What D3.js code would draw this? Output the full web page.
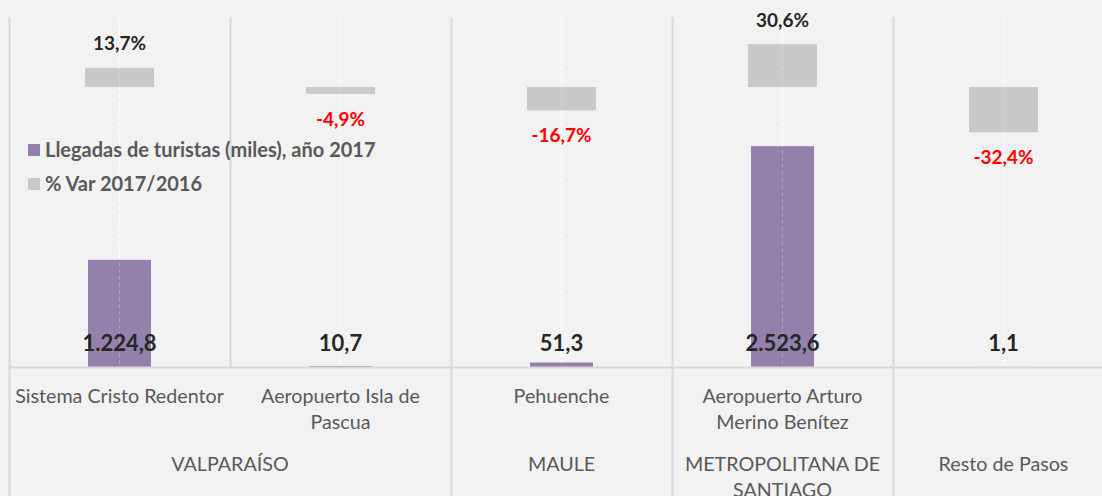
<!DOCTYPE html>
<html>
<head>
<meta charset="utf-8">
<script src="https://cdn.jsdelivr.net/npm/d3@7"></script>
<style>
  body { margin: 0; background: #f2f2f2; }
  svg { display: block; font-family: Lato, 'Open Sans', sans-serif; }
</style>
</head>
<body>
<svg class="chart" width="1102" height="496"></svg>
<script>
// categorías (nivel 1, con saltos de línea) y región (nivel 2)
const categories = ['Sistema Cristo Redentor', 'Aeropuerto Isla de Pascua', 'Pehuenche', 'Aeropuerto Arturo Merino Benítez', ''];
const categoryLines = [['Sistema Cristo Redentor'], ['Aeropuerto Isla de', 'Pascua'], ['Pehuenche'], ['Aeropuerto Arturo', 'Merino Benítez'], []];
const regions = ['VALPARAÍSO', 'MAULE', 'METROPOLITANA DE SANTIAGO', 'Resto de Pasos'];
const regionLines = [['VALPARAÍSO'], ['MAULE'], ['METROPOLITANA DE', 'SANTIAGO'], ['Resto de Pasos']];
const regionSpan = [2, 1, 1, 1]; // cuántas categorías cubre cada región

// series
const arrivals = [1224.8, 10.7, 51.3, 2523.6, 1.1]; // miles
const varPct = [13.7, -4.9, -16.7, 30.6, -32.4];   // %
const seriesNames = ['Llegadas de turistas (miles), año 2017', '% Var 2017/2016'];

const purple = '#9281ab';
const grey = '#c9c9c9';
const gridColor = '#d9d9d9';

const svg = d3.select('svg.chart');
const plotTop = 17, axisY = 367, plotBottom = 496;

const x = d3.scaleBand()
  .domain(d3.range(categories.length))
  .range([9, 9 + 221 * categories.length]);

// eje principal (miles) y secundario (%), ambos ocultos
const yArr = d3.scaleLinear().domain([0, 4000]).range([axisY, plotTop]);
const yVar = d3.scaleLinear().domain([-200, 50]).range([axisY, plotTop]);

const fmtNum = d3.formatLocale({ decimal: ',', thousands: '.', grouping: [3] }).format(',.1f');
const fmtPct = (v) => v.toFixed(1).replace('.', ',') + '%';
const center = (i) => x(i) + x.bandwidth() / 2;

// líneas verticales de la zona de gráfico
svg.append('g')
  .selectAll('line')
  .data(d3.range(categories.length + 1))
  .join('line')
  .attr('x1', (i) => 9 + i * x.bandwidth() + 0.5)
  .attr('x2', (i) => 9 + i * x.bandwidth() + 0.5)
  .attr('y1', plotTop)
  .attr('y2', axisY)
  .attr('stroke', gridColor)
  .attr('stroke-width', 2);

// líneas blancas punteadas en el centro de cada categoría
function dashedLines(opacity) {
  svg.append('g')
    .attr('opacity', opacity)
    .selectAll('line')
    .data(d3.range(categories.length))
    .join('line')
    .attr('x1', (i) => center(i))
    .attr('x2', (i) => center(i))
    .attr('y1', plotTop)
    .attr('y2', axisY)
    .attr('stroke', '#ffffff')
    .attr('stroke-width', 1)
    .attr('stroke-dasharray', '4,3');
}
dashedLines(1);

// barras % variación (flotantes desde el 0 del eje secundario)
svg.append('g')
  .selectAll('rect')
  .data(varPct)
  .join('rect')
  .attr('x', (d, i) => center(i) - 34.5)
  .attr('width', 69)
  .attr('y', (d) => Math.min(yVar(d), yVar(0)))
  .attr('height', (d) => Math.abs(yVar(d) - yVar(0)))
  .attr('fill', grey);

// barras llegadas
svg.append('g')
  .selectAll('rect')
  .data(arrivals)
  .join('rect')
  .attr('x', (d, i) => center(i) - 31.5)
  .attr('width', 63)
  .attr('y', (d) => yArr(d))
  .attr('height', (d) => axisY - yArr(d))
  .attr('fill', purple);

dashedLines(0.25);

// etiquetas % variación
svg.append('g')
  .selectAll('text')
  .data(varPct)
  .join('text')
  .attr('x', (d, i) => center(i))
  .attr('y', (d) => d >= 0 ? yVar(d) - 24 : yVar(d) + 25)
  .attr('dy', '0.35em')
  .attr('text-anchor', 'middle')
  .attr('font-size', 19)
  .attr('font-weight', 'bold')
  .attr('fill', (d) => d >= 0 ? '#262626' : '#ff0000')
  .text((d) => fmtPct(d));

// etiquetas llegadas
svg.append('g')
  .selectAll('text')
  .data(arrivals)
  .join('text')
  .attr('x', (d, i) => center(i))
  .attr('y', 343)
  .attr('dy', '0.35em')
  .attr('text-anchor', 'middle')
  .attr('font-size', 22)
  .attr('font-weight', 'bold')
  .attr('fill', '#262626')
  .text((d) => fmtNum(d));

// eje horizontal
svg.append('line')
  .attr('x1', 9).attr('x2', 1102)
  .attr('y1', axisY + 0.5).attr('y2', axisY + 0.5)
  .attr('stroke', gridColor)
  .attr('stroke-width', 2);

// separadores del eje multinivel
let start = 0;
const regionStarts = regionSpan.map((n) => { const s = start; start += n; return s; });
const sepIdx = [0].concat(regionStarts.slice(1), [categories.length]);
svg.append('g')
  .selectAll('line')
  .data(sepIdx)
  .join('line')
  .attr('x1', (i) => 9 + i * x.bandwidth() + 0.5)
  .attr('x2', (i) => 9 + i * x.bandwidth() + 0.5)
  .attr('y1', axisY)
  .attr('y2', plotBottom)
  .attr('stroke', gridColor)
  .attr('stroke-width', 2);

// etiquetas de categoría
const catG = svg.append('g')
  .selectAll('text')
  .data(categoryLines)
  .join('text')
  .attr('text-anchor', 'middle')
  .attr('font-size', 19.7)
  .attr('fill', '#595959');
catG.selectAll('tspan')
  .data((d, i) => d.map((line) => ({ line, i })))
  .join('tspan')
  .attr('x', (d) => center(d.i))
  .attr('y', (d, j) => 396 + j * 26)
  .attr('dy', '0.35em')
  .text((d) => d.line);

// etiquetas de región
const regG = svg.append('g')
  .selectAll('text')
  .data(regionLines)
  .join('text')
  .attr('text-anchor', 'middle')
  .attr('font-size', 19.7)
  .attr('fill', '#595959');
regG.selectAll('tspan')
  .data((d, i) => d.map((line) => ({ line, i })))
  .join('tspan')
  .attr('x', (d) => x(regionStarts[d.i]) + regionSpan[d.i] * x.bandwidth() / 2)
  .attr('y', (d, j) => 464 + j * 26)
  .attr('dy', '0.35em')
  .text((d) => d.line);

// leyenda
const legend = svg.append('g')
  .selectAll('g')
  .data(seriesNames)
  .join('g')
  .attr('transform', (d, i) => `translate(28, ${150 + i * 34})`);
legend.append('rect')
  .attr('y', -6)
  .attr('width', 12)
  .attr('height', 12)
  .attr('fill', (d, i) => i === 0 ? purple : grey);
legend.append('text')
  .attr('x', 17)
  .attr('dy', '0.35em')
  .attr('font-size', 20)
  .attr('font-weight', 'bold')
  .attr('fill', '#595959')
  .text((d) => d);
</script>
</body>
</html>
